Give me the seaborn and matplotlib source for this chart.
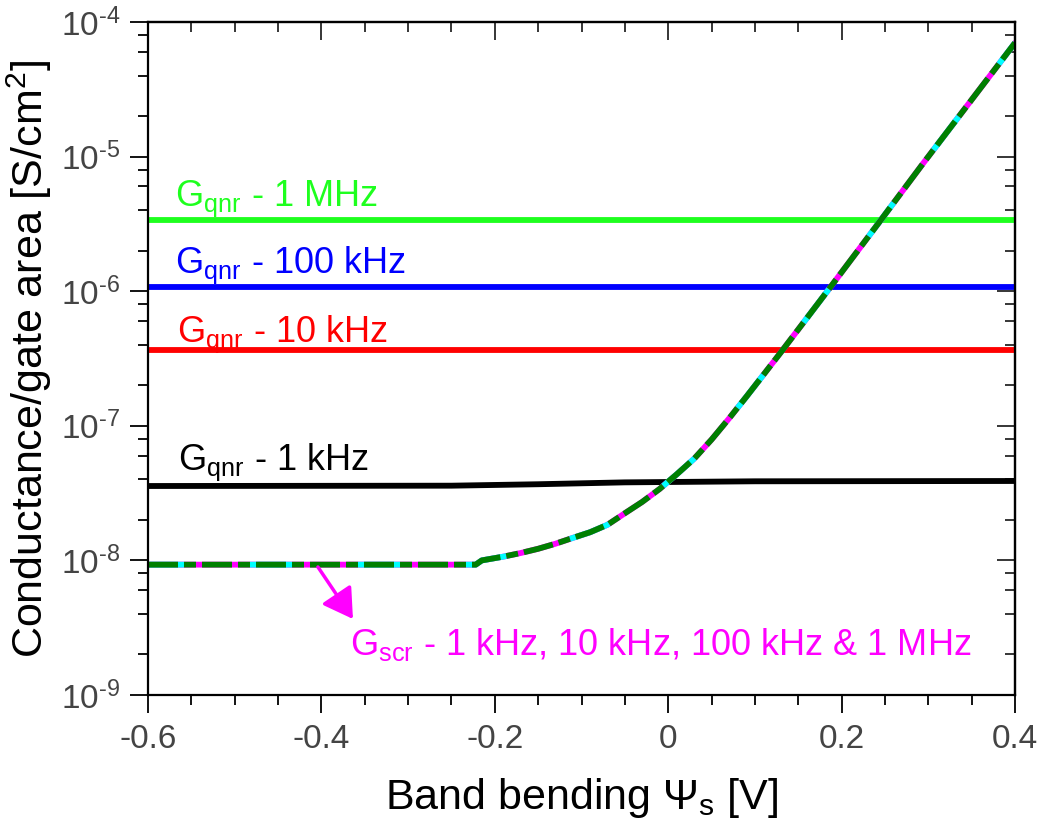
import numpy as np
import pandas as pd
import matplotlib
matplotlib.use("Agg")
import matplotlib.pyplot as plt
import seaborn as sns

# ---------------- data ----------------
x_flat = [-0.6, 0.4]
g_1mhz = [3.36e-6, 3.36e-6]
g_100khz = [1.07e-6, 1.07e-6]
g_10khz = [3.66e-7, 3.66e-7]

x_1khz = [-0.6, -0.25, -0.15, -0.05, 0.1, 0.4]
g_1khz = [3.57e-8, 3.59e-8, 3.68e-8, 3.80e-8, 3.87e-8, 3.89e-8]

x_scr = [-0.6, -0.222, -0.215, -0.19, -0.17, -0.15, -0.13, -0.11, -0.09,
         -0.07, -0.05, -0.03, -0.01, 0.01, 0.03, 0.05, 0.07, 0.09, 0.11,
         0.13, 0.187, 0.245, 0.294, 0.4]
g_scr = [9.3e-9, 9.3e-9, 1.0e-8, 1.067e-8, 1.135e-8, 1.22e-8, 1.33e-8,
         1.47e-8, 1.62e-8, 1.84e-8, 2.24e-8, 2.72e-8, 3.39e-8, 4.37e-8,
         5.7e-8, 7.9e-8, 1.13e-7, 1.64e-7, 2.40e-7, 3.52e-7, 1.07e-6,
         3.36e-6, 8.9e-6, 7.0e-5]

x_ticks = [-0.6, -0.4, -0.2, 0, 0.2, 0.4]
x_ticklabels = ["-0.6", "-0.4", "-0.2", "0", "0.2", "0.4"]
y_ticks = [1e-9, 1e-8, 1e-7, 1e-6, 1e-5, 1e-4]
y_ticklabels = [r"$10^{\text{-}9}$", r"$10^{\text{-}8}$", r"$10^{\text{-}7}$",
                r"$10^{\text{-}6}$", r"$10^{\text{-}5}$", r"$10^{\text{-}4}$"]

# ---------------- style ----------------
sns.set_theme(style="ticks")
plt.rcParams["font.family"] = ["Liberation Sans", "DejaVu Sans"]
plt.rcParams["mathtext.fontset"] = "custom"
plt.rcParams["mathtext.rm"] = "Liberation Sans"
plt.rcParams["mathtext.it"] = "Liberation Sans:italic"
plt.rcParams["mathtext.bf"] = "Liberation Sans:bold"
plt.rcParams["lines.scale_dashes"] = False
plt.rcParams["axes.unicode_minus"] = False

fig = plt.figure(figsize=(10.42, 8.25), dpi=100)
ax = fig.add_axes([148 / 1042, 1 - 695 / 825, (1015 - 148) / 1042, (695 - 22) / 825])

LW = 4.2
sns.lineplot(x=x_flat, y=g_1mhz, ax=ax, color="#1eff1e", lw=LW)
sns.lineplot(x=x_flat, y=g_100khz, ax=ax, color="#0000ff", lw=LW)
sns.lineplot(x=x_flat, y=g_10khz, ax=ax, color="#ff0000", lw=LW)
sns.lineplot(x=x_1khz, y=g_1khz, ax=ax, color="#000000", lw=LW)

# G_scr curves (overlapping, dashed)
sns.lineplot(x=x_scr, y=g_scr, ax=ax, color="#ff00ff", lw=LW)
sns.lineplot(x=x_scr, y=g_scr, ax=ax, color="#00ffff", lw=LW)
ax.lines[-1].set_linestyle((4.32, (30.24, 47.52)))
sns.lineplot(x=x_scr, y=g_scr, ax=ax, color="#007f00", lw=LW)
ax.lines[-1].set_linestyle((0, (21.6, 4.32, 8.64, 4.32)))

ax.set_yscale("log")
ax.set_xlim(-0.6, 0.4)
ax.set_ylim(1e-9, 1e-4)

ax.set_xticks(x_ticks)
ax.set_xticklabels(x_ticklabels)
ax.set_xticks(np.arange(-0.6, 0.401, 0.05), minor=True)
ax.set_yticks(y_ticks)
ax.set_yticklabels(y_ticklabels)
ax.yaxis.set_minor_locator(matplotlib.ticker.LogLocator(base=10, subs=(2, 4, 6, 8)))
ax.yaxis.set_minor_formatter(matplotlib.ticker.NullFormatter())

for s in ax.spines.values():
    s.set_linewidth(1.6)
    s.set_color("black")
    s.set_visible(True)

ax.tick_params(axis="both", which="major", length=13, width=1.3, color="black",
               labelsize=24, labelcolor="#444444", direction="out")
ax.tick_params(axis="both", which="minor", length=7, width=1.3, color="black",
               direction="out")
ax.tick_params(axis="x", which="major", pad=8)
ax.tick_params(axis="y", which="major", pad=7)

# mirrored top/right ticks pointing inward
secx = ax.secondary_xaxis("top")
secx.set_xticks(x_ticks)
secx.set_xticks(np.arange(-0.6, 0.401, 0.05), minor=True)
secx.tick_params(which="major", length=13, width=1.3, direction="in", labeltop=False)
secx.tick_params(which="minor", length=7, width=1.3, direction="in")
secx.set_xticklabels([])
secy = ax.secondary_yaxis("right")
secy.set_yticks(y_ticks)
secy.yaxis.set_minor_locator(matplotlib.ticker.LogLocator(base=10, subs=(2, 4, 6, 8)))
secy.yaxis.set_minor_formatter(matplotlib.ticker.NullFormatter())
secy.tick_params(which="major", length=13, width=1.3, direction="in", labelright=False)
secy.tick_params(which="minor", length=7, width=1.3, direction="in")
secy.set_yticklabels([])
for sp in list(secx.spines.values()) + list(secy.spines.values()):
    sp.set_linewidth(1.6)

ax.set_xlabel(r"Band bending Ψ$_\mathrm{s}$ [V]", fontsize=31, color="black")
ax.set_ylabel(r"Conductance/gate area [S/cm$^\mathrm{2}$]", fontsize=31, color="black")
ax.xaxis.set_label_coords(0.5, (695 - 776) / 673)
ax.yaxis.set_label_coords((54 - 148) / 867, 0.5)

TFS = 26
ax.text(-0.569, 4.3e-6, r"G$_\mathrm{qnr}$ - 1 MHz", color="#1eff1e", fontsize=TFS, va="baseline")
ax.text(-0.569, 1.36e-6, r"G$_\mathrm{qnr}$ - 100 kHz", color="#0000ff", fontsize=TFS, va="baseline")
ax.text(-0.567, 4.2e-7, r"G$_\mathrm{qnr}$ - 10 kHz", color="#ff0000", fontsize=TFS, va="baseline")
ax.text(-0.565, 4.7e-8, r"G$_\mathrm{qnr}$ - 1 kHz", color="#000000", fontsize=TFS, va="baseline")
ax.text(-0.367, 1.98e-9, r"G$_\mathrm{scr}$ - 1 kHz, 10 kHz, 100 kHz & 1 MHz",
        color="#ff00ff", fontsize=TFS, va="baseline")

ax.annotate("", xy=(-0.3636, 3.67e-9), xytext=(-0.404, 8.93e-9),
            arrowprops=dict(arrowstyle="-|>,head_length=0.5,head_width=0.3",
                            color="#ff00ff", lw=2.5,
                            mutation_scale=36, shrinkA=0, shrinkB=0))

fig.savefig("out.png", dpi=100)
